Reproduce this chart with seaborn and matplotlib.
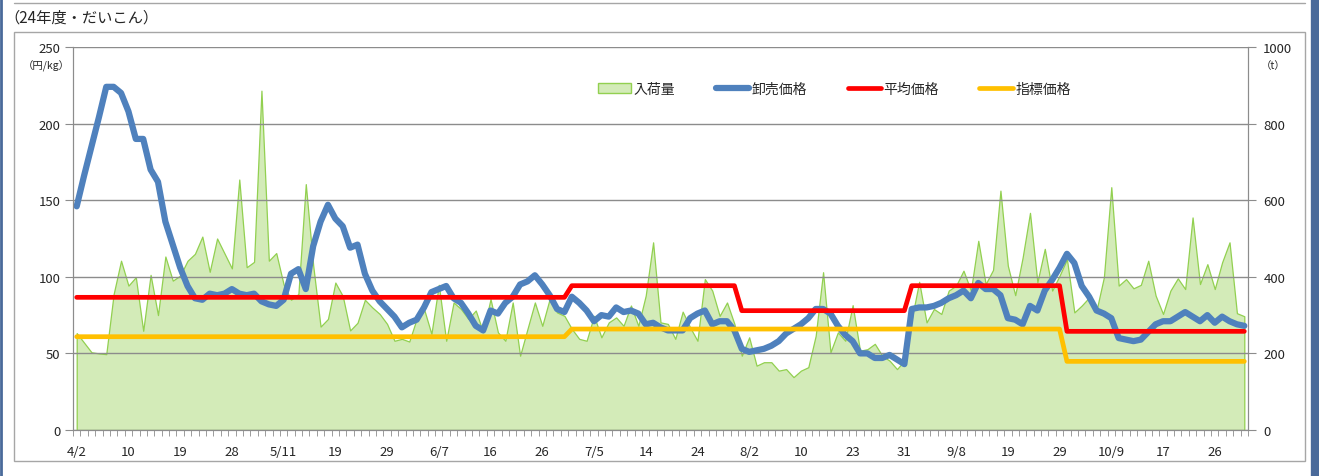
import numpy as np
import pandas as pd
import matplotlib
matplotlib.use("Agg")
import matplotlib.pyplot as plt
import seaborn as sns
from matplotlib.patches import Patch, Rectangle
from matplotlib.lines import Line2D

# --- data (one value per market day) ---
xlabels = ["4/2", "10", "19", "28", "5/11", "19", "29", "6/7", "16", "26", "7/5", "14",
           "24", "8/2", "10", "23", "31", "9/8", "19", "29", "10/9", "17", "26"]

# 卸売価格 (円/kg)
price = [146, 166, 185, 204, 224, 224, 220, 208, 190, 190, 170, 162, 136, 121, 106, 94,
         86, 85, 89, 88, 89, 92, 89, 88, 89, 84, 82, 81, 85, 102, 105, 92, 120, 136, 147, 138,
         133, 119, 121, 102, 91, 84, 79, 74, 67, 70, 72, 80, 90, 92, 94, 86, 83, 76, 68, 65,
         78, 76, 83, 87, 95, 97, 101, 95, 88, 79, 77, 87, 83, 78, 71, 75, 74, 80, 77, 78, 76,
         69, 70, 67, 65, 65, 65, 73, 76, 78, 69, 71, 71, 65, 53, 51, 52, 53, 55, 58, 63, 66,
         69, 73, 79, 79, 76, 68, 62, 58, 50, 50, 47, 47, 49, 46, 43, 79, 80, 80, 81, 83, 86,
         88, 91, 86, 96, 92, 92, 88, 73, 72, 69, 81, 78, 91, 98, 106, 115, 109, 94, 87, 78,
         76, 73, 60, 59, 58, 59, 64, 69, 71, 71, 74, 77, 74, 71, 75, 70, 74, 71, 69, 68]

# 入荷量 (t)
volume = [253, 228, 203, 200, 198, 355, 442, 377, 399, 259, 405, 300, 453, 390, 403, 442,
          460, 505, 413, 500, 461, 422, 654, 425, 439, 886, 442, 462, 380, 340, 355, 642,
          430, 270, 290, 385, 350, 260, 280, 340, 320, 303, 277, 233, 238, 231, 290, 316,
          251, 379, 233, 333, 316, 290, 312, 255, 342, 255, 233, 333, 194, 264, 333, 272,
          342, 307, 298, 264, 238, 233, 298, 242, 281, 294, 272, 325, 272, 351, 490, 281,
          277, 238, 309, 268, 233, 394, 364, 298, 333, 277, 194, 242, 168, 177, 177, 155,
          159, 138, 155, 164, 246, 412, 203, 255, 233, 326, 207, 211, 225, 194, 181, 159,
          181, 290, 387, 281, 316, 303, 364, 377, 416, 364, 494, 381, 418, 625, 429, 352,
          450, 567, 386, 473, 364, 403, 446, 307, 325, 346, 312, 399, 634, 377, 394, 370,
          379, 442, 351, 303, 364, 396, 368, 555, 381, 433, 368, 438, 490, 305, 297]

# 平均価格 / 指標価格 (円/kg), constant within each period
avg_price = [86.6] * 67 + [94.2] * 23 + [77.9] * 23 + [94.2] * 21 + [64.4] * 25
ref_price = [60.9] * 67 + [65.9] * 67 + [44.8] * 25

df = pd.DataFrame({"day": np.arange(len(price)), "price": price, "volume": volume,
                   "avg": avg_price, "ref": ref_price})

sns.set_style("white")
plt.rcParams['font.family'] = ['Noto Sans CJK JP', 'DejaVu Sans']

W, H = 1319, 477
fig = plt.figure(figsize=(W / 100, H / 100), dpi=100)

# surrounding frame / page bits
fig.add_artist(Rectangle((14 / W, 1 - 462 / H), (1305 - 14) / W, (462 - 33) / H,
                         transform=fig.transFigure, fill=False, edgecolor="#A6A6A6", lw=1))
fig.add_artist(Line2D([14 / W, 1305 / W], [1 - 4 / H, 1 - 4 / H], transform=fig.transFigure,
                      color="#A6A6A6", lw=1))
fig.add_artist(Line2D([1 / W, 1 / W], [0, 1], transform=fig.transFigure, color="#4A6A9A", lw=2))
fig.add_artist(Line2D([1315 / W, 1315 / W], [0, 1], transform=fig.transFigure, color="#4A6A9A", lw=6))
fig.text(4 / W, 1 - 18 / H, "（24年度・だいこん）", fontsize=11, va="center", ha="left")

ax = fig.add_axes([73 / W, 1 - 431 / H, (1248 - 73) / W, (431 - 48) / H])
ax2 = ax.twinx()

# area on secondary axis, drawn behind the price lines
ax2.fill_between(df["day"], 0, df["volume"], facecolor="#D3EBB8", edgecolor="#92D050", lw=0.9)
ax2.set_ylim(0, 1000)
ax2.set_yticks(range(0, 1001, 200))

sns.lineplot(data=df, x="day", y="price", ax=ax, color="#4F81BD", lw=4.5)
sns.lineplot(data=df, x="day", y="avg", ax=ax, color="#FF0000", lw=3.4)
sns.lineplot(data=df, x="day", y="ref", ax=ax, color="#FFC000", lw=3.4)

ax.set_zorder(ax2.get_zorder() + 1)
ax.patch.set_visible(False)

ax.set_ylim(0, 250)
ax.set_yticks(range(0, 251, 50))
ax.set_xlim(-0.5, len(price) - 0.5)
ax.set_xticks(np.arange(0, len(price), 7)[:len(xlabels)])
ax.set_xticklabels(xlabels)
ax.set_xticks(np.arange(-0.5, len(price), 1), minor=True)
ax.set_xlabel("")
ax.set_ylabel("")
ax2.set_ylabel("")

ax.grid(axis="y", color="#8C8C8C", lw=1)
ax.grid(axis="x", visible=False)
for a in (ax, ax2):
    for s in a.spines.values():
        s.set_color("#8C8C8C")
    a.spines["top"].set_visible(False)
ax.tick_params(axis="x", which="major", length=0, pad=11, labelsize=9.5)
ax.tick_params(axis="x", which="minor", length=4, color="#8C8C8C", bottom=True)
ax.tick_params(axis="y", length=6, color="#8C8C8C", labelsize=9.5, left=True, pad=3)
ax2.tick_params(axis="y", length=6, color="#8C8C8C", labelsize=9.5, right=True, pad=5)

fig.text(46 / W, 1 - 66 / H, "（円/kg）", fontsize=7.5, ha="center", va="center")
fig.text(1273 / W, 1 - 66 / H, "（t）", fontsize=7.5, ha="center", va="center")

handles = [Patch(facecolor="#D3EBB8", edgecolor="#92D050"),
           Line2D([], [], color="#4F81BD", lw=4.5),
           Line2D([], [], color="#FF0000", lw=3.4),
           Line2D([], [], color="#FFC000", lw=3.4)]
ax.legend(handles, ["入荷量", "卸売価格", "平均価格", "指標価格"], ncol=4, frameon=False,
          loc="center", bbox_to_anchor=(0.648, 0.89), fontsize=10, handlelength=2.4,
          handletextpad=0.2, columnspacing=2.9)

fig.savefig("out.png", dpi=100)
